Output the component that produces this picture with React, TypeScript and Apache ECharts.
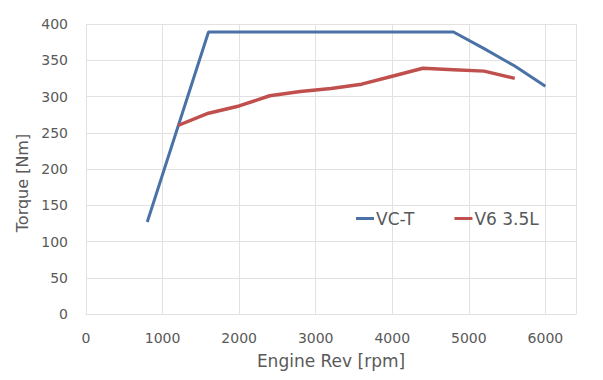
import React, { useEffect, useRef } from "react";
import * as echarts from "echarts";

const vctRpm = [800, 1600, 4800, 5200, 5600, 6000];
const vctTorque = [127, 389, 389, 366, 342, 314];
const v6Rpm = [1200, 1600, 2000, 2400, 2800, 3200, 3600, 4000, 4400, 4800, 5200, 5600];
const v6Torque = [260, 277, 287, 301, 307, 311, 317, 328, 339, 337, 335, 325];
const seriesNames = ["VC-T", "V6 3.5L"];
const xTitle = "Engine Rev [rpm]";
const yTitle = "Torque [Nm]";

const FONT = "DejaVu Sans";
const TXT = "#595959";
const GRID = "#E2E2E2";

export default function App() {
  const ref = useRef<HTMLDivElement>(null);
  useEffect(() => {
    if (!ref.current) return;
    const chart = echarts.init(ref.current, undefined, { renderer: "svg" });
    chart.setOption({
      animation: false,
      backgroundColor: "#ffffff",
      textStyle: { fontFamily: FONT },
      grid: { left: 86, right: 27, top: 24, bottom: 66 },
      legend: {
        left: 351,
        top: 205,
        icon: "rect",
        itemWidth: 18,
        itemHeight: 3,
        itemGap: 40,
        textStyle: { fontFamily: FONT, fontSize: 17, color: TXT, padding: [0, 0, 0, -3] },
        data: seriesNames,
      },
      xAxis: {
        type: "value",
        min: 0,
        max: 6400,
        interval: 1000,
        name: xTitle,
        nameLocation: "middle",
        nameGap: 38,
        nameTextStyle: { fontFamily: FONT, fontSize: 17, color: TXT },
        axisLine: { show: true, lineStyle: { color: GRID, width: 1 } },
        axisTick: { show: false },
        axisLabel: {
          fontFamily: FONT,
          fontSize: 14,
          color: TXT,
          margin: 17,
          showMaxLabel: false,
          formatter: (v: number) => String(v),
        },
        splitLine: { show: true, lineStyle: { color: GRID, width: 1 } },
      },
      yAxis: {
        type: "value",
        min: 0,
        max: 400,
        interval: 50,
        name: yTitle,
        nameLocation: "middle",
        nameGap: 56,
        nameTextStyle: { fontFamily: FONT, fontSize: 16, color: TXT, padding: [0, 28, 0, 0] },
        axisLine: { show: false },
        axisTick: { show: false },
        axisLabel: { fontFamily: FONT, fontSize: 14, color: TXT, margin: 18 },
        splitLine: { show: true, lineStyle: { color: GRID, width: 1 } },
      },
      series: [
        {
          name: seriesNames[0],
          type: "line",
          data: vctRpm.map((x, i) => [x, vctTorque[i]]),
          showSymbol: false,
          symbol: "none",
          lineStyle: { color: "#4A72A6", width: 3 },
          itemStyle: { color: "#4A72A6" },
        },
        {
          name: seriesNames[1],
          type: "line",
          data: v6Rpm.map((x, i) => [x, v6Torque[i]]),
          showSymbol: false,
          symbol: "none",
          lineStyle: { color: "#C0504D", width: 3.5 },
          itemStyle: { color: "#C0504D" },
        },
      ],
    });
    return () => chart.dispose();
  }, []);
  return <div ref={ref} style={{ width: 603, height: 380, position: "absolute", left: 0, top: 0 }} />;
}
